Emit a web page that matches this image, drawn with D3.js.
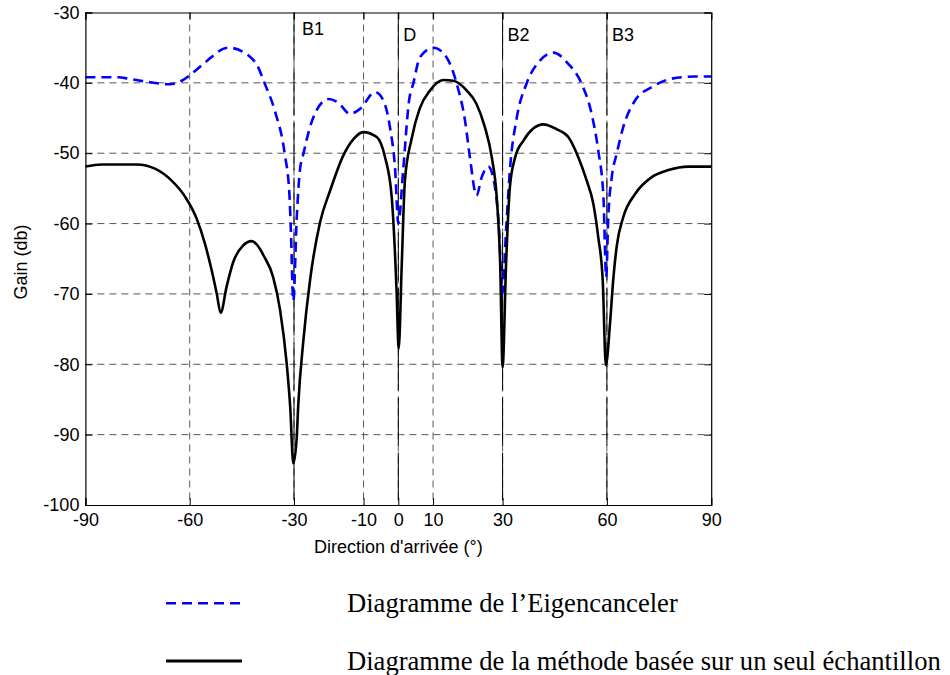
<!DOCTYPE html>
<html>
<head>
<meta charset="utf-8">
<script src="https://cdn.jsdelivr.net/npm/d3@7"></script>
<style>
  body { margin: 0; background: #fff; }
  svg { display: block; }
</style>
</head>
<body>
<script>
// angle ticks and gain ticks
const angleTicks = [-90, -60, -30, -10, 0, 10, 30, 60, 90];
const gainTicks = [-100, -90, -80, -70, -60, -50, -40, -30];

// source directions marked on the plot
const markerLabels = ["B1", "D", "B2", "B3"];
const markerAngles = [-30, 0, 30, 60];

// Eigencanceler pattern (blue dashed)
const eigenAngle = [-90, -80.5, -77.6, -72.8, -65.7, -62.3, -59.4, -55.6, -48.9, -43.1, -40.5, -38.5, -35.5, -32.7, -31.3, -30.9, -30.2,
  -29.2, -28.3, -27.3, -25.4, -23.5, -20.1, -17.3, -13.9, -11.0, -6.7, -4.3, -2.4, -0.9, 0, 1.4, 3.1, 4.3, 6.2, 10.1,
  13.9, 16.8, 19.2, 20.6, 22.5, 24.0, 25.9, 27.8, 29.0, 29.9, 31.0, 32.1, 34.1, 36.9, 40.8, 44.6, 48.9, 52.7, 55.6,
  57.5, 59.0, 59.8, 60.4, 61.4, 62.8, 64.7, 68.1, 72.9, 78.7, 85.3, 90];
const eigenGain = [-39.2, -39.2, -39.4, -39.8, -40.2, -39.7, -38.7, -37.1, -35.0, -36.1, -37.6, -40.0, -44.0, -50.0, -56.0, -61.0, -71.0,
  -59.1, -52.4, -50.1, -46.3, -43.9, -42.3, -42.8, -44.4, -43.7, -41.3, -42.5, -46.3, -52.4, -60.0, -52.4, -42.5, -40.1, -36.4, -35.0,
  -36.4, -40.1, -45.4, -50.6, -56.0, -53.4, -51.9, -54.8, -61.0, -70.0, -61.0, -52.4, -44.9, -40.1, -36.8, -35.7, -37.3, -40.1, -44.4,
  -49.6, -56.2, -67.6, -59.1, -53.4, -50.1, -46.3, -42.5, -40.6, -39.4, -39.1, -39.1];

// single-snapshot method pattern (black solid)
const singleAngle = [-90, -85.3, -75.2, -70.0, -65.2, -61.3, -58.0, -55.6, -53.7, -52.2, -51.1, -49.4, -47.5, -44.6, -42.2, -39.8, -38.8,
  -36.0, -34.0, -32.1, -31.1, -30.2, -29.2, -28.8, -27.3, -25.4, -22.5, -19.6, -15.8, -12.9, -10.1, -6.2, -3.8, -1.9, -0.5, 0.1,
  1.0, 1.9, 3.8, 6.2, 9.1, 12.9, 15.8, 19.7, 22.5, 24.9, 26.9, 28.3, 29.3, 30.0, 31.0, 32.1, 33.6, 36.0, 38.8, 41.7, 45.6,
  48.9, 51.8, 54.2, 56.1, 57.5, 58.8, 59.7, 60.9, 61.8, 62.8, 64.7, 68.1, 72.9, 77.7, 83.4, 90];
const singleGain = [-51.9, -51.6, -51.6, -52.2, -53.9, -56.2, -59.3, -62.9, -66.6, -70.0, -72.7, -69.0, -65.5, -63.1, -62.5, -63.6, -64.5,
  -67.6, -72.3, -79.9, -86.0, -94.1, -90.3, -86.0, -76.6, -68.1, -59.8, -55.3, -50.3, -48.0, -47.0, -47.7, -50.6, -56.2, -69.5, -77.8,
  -65.7, -53.9, -48.0, -43.6, -41.1, -39.6, -39.7, -41.1, -43.0, -46.3, -50.6, -56.2, -65.7, -80.4, -65.7, -54.8, -50.6, -48.2, -46.5, -45.9, -46.6,
  -47.7, -50.6, -53.9, -57.2, -61.9, -68.1, -80.1, -74.2, -68.1, -63.3, -59.1, -55.8, -53.4, -52.4, -51.9, -51.9];

const legendLabels = ["Diagramme de l\u2019Eigencanceler", "Diagramme de la m\u00e9thode bas\u00e9e sur un seul \u00e9chantillon"];

const W = 950, H = 675;
const mLeft = 85.4, mRight = 711.2, mTop = 12.5, mBottom = 505;

const svg = d3.select("body").append("svg")
  .attr("width", W).attr("height", H);

const x = d3.scaleLinear().domain([-90, 90]).range([mLeft, mRight]);
const y = d3.scaleLinear().domain([-100, -30]).range([mBottom, mTop]);

// grid
const grid = svg.append("g").attr("stroke", "#444").attr("stroke-width", 0.9)
  .attr("stroke-dasharray", "7,5").attr("fill", "none");
grid.selectAll(".gx").data(angleTicks.slice(1, -1)).enter().append("line")
  .attr("x1", d => x(d)).attr("x2", d => x(d))
  .attr("y1", mTop).attr("y2", mBottom);
grid.selectAll(".gy").data(gainTicks.slice(1, -1)).enter().append("line")
  .attr("x1", mLeft).attr("x2", mRight)
  .attr("y1", d => y(d)).attr("y2", d => y(d));

// marker lines
svg.append("g").selectAll("line").data(markerAngles).enter().append("line")
  .attr("x1", d => x(d)).attr("x2", d => x(d))
  .attr("y1", mTop).attr("y2", mBottom)
  .attr("stroke", "#000").attr("stroke-width", 1)
  .attr("stroke-dasharray", "48,7");

const labelY = {B1: 35};
svg.append("g").selectAll("text").data(markerLabels).enter().append("text")
  .attr("x", (d, i) => x(markerAngles[i]) + (i == 0 ? 8 : 5))
  .attr("y", d => labelY[d] || 41)
  .attr("font-family", "Liberation Sans, Arial, sans-serif")
  .attr("font-size", 18)
  .text(d => d);

// curves
const eigenData = eigenAngle.map((a, i) => [a, eigenGain[i]]);
const singleData = singleAngle.map((a, i) => [a, singleGain[i]]);
const line = d3.line().x(d => x(d[0])).y(d => y(d[1])).curve(d3.curveMonotoneX);

svg.append("path").datum(eigenData)
  .attr("d", line)
  .attr("fill", "none").attr("stroke", "#0000ff")
  .attr("stroke-width", 2.6).attr("stroke-dasharray", "10,6");

svg.append("path").datum(singleData)
  .attr("d", line)
  .attr("fill", "none").attr("stroke", "#000")
  .attr("stroke-width", 2.6).attr("stroke-linejoin", "round");

// axes
const axisFont = "Liberation Sans, Arial, sans-serif";
const fmt = d => String(d);
const xAxis = svg.append("g").attr("transform", "translate(0," + mBottom + ")")
  .call(d3.axisBottom(x).tickValues(angleTicks).tickSize(-7).tickPadding(8).tickFormat(fmt));
const xTop = svg.append("g").attr("transform", "translate(0," + mTop + ")")
  .call(d3.axisTop(x).tickValues(angleTicks).tickSize(-7).tickFormat(""));
const yAxis = svg.append("g").attr("transform", "translate(" + mLeft + ",0)")
  .call(d3.axisLeft(y).tickValues(gainTicks).tickSize(-7).tickPadding(6).tickFormat(fmt));
const yRight = svg.append("g").attr("transform", "translate(" + mRight + ",0)")
  .call(d3.axisRight(y).tickValues(gainTicks).tickSize(-7).tickFormat(""));

[xAxis, xTop, yAxis, yRight].forEach(a => {
  a.select(".domain").attr("stroke", "#000").attr("stroke-width", 1.2);
  a.selectAll(".tick line").attr("stroke", "#000");
  a.selectAll("text").attr("font-family", axisFont).attr("font-size", 18).attr("fill", "#000");
});
xAxis.selectAll("text").attr("dy", "0.71em");

svg.append("text")
  .attr("x", x(0)).attr("y", 553)
  .attr("text-anchor", "middle")
  .attr("font-family", axisFont).attr("font-size", 18)
  .text("Direction d'arriv\u00e9e (\u00b0)");

svg.append("text")
  .attr("transform", "translate(27,262) rotate(-90)")
  .attr("text-anchor", "middle")
  .attr("font-family", axisFont).attr("font-size", 18)
  .text("Gain (db)");

// legend
const legY = [603.3, 661];
const leg = svg.append("g");
leg.append("line").attr("x1", 166).attr("x2", 242).attr("y1", legY[0]).attr("y2", legY[0])
  .attr("stroke", "#0000ff").attr("stroke-width", 2.6).attr("stroke-dasharray", "10,6");
leg.append("line").attr("x1", 166).attr("x2", 242).attr("y1", legY[1]).attr("y2", legY[1])
  .attr("stroke", "#000").attr("stroke-width", 2.8);
leg.selectAll("text").data(legendLabels).enter().append("text")
  .attr("x", 347).attr("y", (d, i) => legY[i] + 8.5)
  .attr("font-family", "Liberation Serif, Times New Roman, serif")
  .attr("font-size", 26.6)
  .text(d => d);
</script>
</body>
</html>
